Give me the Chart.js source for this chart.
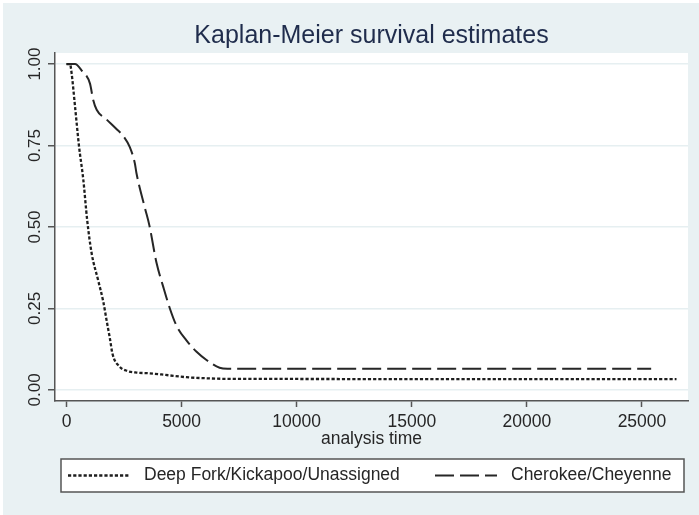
<!DOCTYPE html>
<html>
<head>
<meta charset="utf-8">
<title>Kaplan-Meier survival estimates</title>
<script src="https://cdn.jsdelivr.net/npm/chart.js@4/dist/chart.umd.min.js"></script>
<style>
  html, body { margin: 0; padding: 0; background: #ffffff; }
  #wrap { position: absolute; left: 3px; top: 3px; width: 696px; height: 512px; background: #e9f1f3; }
</style>
</head>
<body>
<div id="wrap"><canvas id="kmChart" width="696" height="512"></canvas></div>
<script>
// series
const seriesNames = ['Deep Fork/Kickapoo/Unassigned', 'Cherokee/Cheyenne'];

const deepForkTime = [0, 150, 225, 370, 540, 730, 900, 1090, 1380, 1600, 1750, 1880, 2000, 2300, 2650, 3050, 3600, 4300, 5200, 6000, 7000, 26500];
const deepForkSurv = [1.0, 1.0, 0.97, 0.87, 0.75, 0.645, 0.52, 0.42, 0.335, 0.27, 0.21, 0.16, 0.11, 0.072, 0.058, 0.053, 0.051, 0.046, 0.039, 0.036, 0.034, 0.033];

const cherokeeTime = [0, 370, 660, 1020, 1160, 1310, 1740, 2180, 2460, 2750, 2970, 3040, 3400, 3600, 3910, 4200, 4490, 4780, 5210, 5650, 6080, 6650, 7000, 25400];
const cherokeeSurv = [1.0, 1.0, 0.98, 0.94, 0.89, 0.86, 0.83, 0.80, 0.78, 0.745, 0.695, 0.665, 0.56, 0.505, 0.39, 0.317, 0.25, 0.197, 0.152, 0.117, 0.092, 0.068, 0.065, 0.065];

const xTicks = [0, 5000, 10000, 15000, 20000, 25000];
const yTicks = [0, 0.25, 0.5, 0.75, 1];
const yTickLabels = ['0.00', '0.25', '0.50', '0.75', '1.00'];

const textColor = '#262626';
const axisColor = '#555555';
const fontFamily = '"Liberation Sans", Arial, sans-serif';

function toPoints(times, surv) {
  return times.map((t, i) => ({ x: t, y: surv[i] }));
}

// white plot region
const plotBackground = {
  id: 'plotBackground',
  beforeDraw(chart) {
    const a = chart.chartArea;
    const ctx = chart.ctx;
    ctx.save();
    ctx.fillStyle = '#ffffff';
    ctx.fillRect(a.left, a.top, a.right - a.left, a.bottom - a.top);
    ctx.restore();
  }
};

// stata-like legend with a frame under the axis
const boxedLegend = {
  id: 'boxedLegend',
  afterDraw(chart) {
    const ctx = chart.ctx;
    const a = chart.chartArea;
    const left = a.left + 6, right = a.right - 4;
    const top = a.bottom + 58, h = 33;
    ctx.save();
    ctx.fillStyle = '#ffffff';
    ctx.fillRect(left, top, right - left, h);
    ctx.strokeStyle = axisColor;
    ctx.lineWidth = 1.5;
    ctx.strokeRect(left, top, right - left, h);

    const cy = top + h / 2;
    const starts = [left + 7, left + 374];
    chart.data.datasets.forEach((ds, i) => {
      const x0 = starts[i];
      ctx.strokeStyle = ds.borderColor;
      ctx.lineWidth = ds.borderWidth;
      ctx.setLineDash(ds.borderDash);
      ctx.beginPath();
      ctx.moveTo(x0, cy);
      ctx.lineTo(x0 + 62, cy);
      ctx.stroke();
      ctx.setLineDash([]);
      ctx.fillStyle = textColor;
      ctx.font = '17.5px ' + fontFamily;
      ctx.textBaseline = 'middle';
      ctx.textAlign = 'left';
      ctx.fillText(ds.label, x0 + 76, cy);
    });
    ctx.restore();
  }
};

const ctx = document.getElementById('kmChart').getContext('2d');
const kmChart = new Chart(ctx, {
  type: 'line',
  data: {
    datasets: [{
      label: seriesNames[0],
      data: toPoints(deepForkTime, deepForkSurv),
      borderColor: '#1e1e1e',
      borderWidth: 2.3,
      borderDash: [3.2, 2],
      pointRadius: 0,
      fill: false,
      cubicInterpolationMode: 'monotone'
    }, {
      label: seriesNames[1],
      data: toPoints(cherokeeTime, cherokeeSurv),
      borderColor: '#262626',
      borderWidth: 2,
      borderDash: [19, 6],
      pointRadius: 0,
      fill: false,
      cubicInterpolationMode: 'monotone'
    }]
  },
  options: {
    responsive: false,
    animation: false,
    devicePixelRatio: 1,
    layout: { padding: { left: 0, right: 11, top: 0, bottom: 64 } },
    scales: {
      x: {
        type: 'linear',
        min: -500,
        max: 27000,
        afterBuildTicks: (scale) => { scale.ticks = xTicks.map(v => ({ value: v })); },
        afterFit: (scale) => { scale.height = 50; },
        grid: { drawOnChartArea: false, drawTicks: true, tickLength: 6, tickColor: axisColor, tickWidth: 1.5 },
        border: { display: true, color: axisColor, width: 1.5 },
        ticks: {
          color: textColor,
          padding: 5,
          maxRotation: 0,
          font: { family: fontFamily, size: 17.5 },
          callback: (v) => String(v)
        },
        title: {
          display: true,
          text: 'analysis time',
          color: textColor,
          font: { family: fontFamily, size: 17.5 },
          padding: { top: 0, bottom: 1 }
        }
      },
      y: {
        type: 'linear',
        min: -0.034,
        max: 1.034,
        afterBuildTicks: (scale) => { scale.ticks = yTicks.map(v => ({ value: v })); },
        afterFit: (scale) => { scale.width = 52; },
        grid: { color: '#e6eff1', lineWidth: 1.5, drawTicks: true, tickLength: 7, tickColor: axisColor, tickWidth: 1.5 },
        border: { display: true, color: axisColor, width: 1.5 },
        ticks: {
          color: textColor,
          minRotation: 90,
          maxRotation: 90,
          crossAlign: 'center',
          padding: -4,
          font: { family: fontFamily, size: 17 },
          callback: (v) => yTickLabels[yTicks.indexOf(v)]
        }
      }
    },
    plugins: {
      legend: { display: false },
      tooltip: { enabled: false },
      title: {
        display: true,
        fullSize: false,
        text: 'Kaplan-Meier survival estimates',
        color: '#1f2c4c',
        font: { family: fontFamily, size: 25, weight: 'normal' },
        padding: { top: 18, bottom: 2 }
      }
    }
  },
  plugins: [plotBackground, boxedLegend]
});
</script>
</body>
</html>
